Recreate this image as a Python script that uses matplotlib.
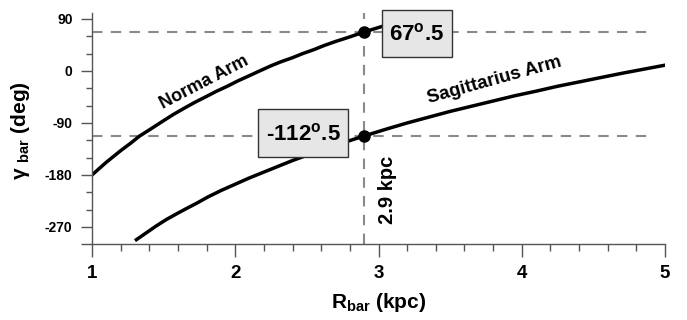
import matplotlib
matplotlib.use("Agg")
import matplotlib.pyplot as plt
from matplotlib.patches import Rectangle

plt.rcParams['font.family'] = ['Liberation Sans', 'DejaVu Sans']
plt.rcParams['font.weight'] = 'bold'
plt.rcParams['mathtext.fontset'] = 'custom'
plt.rcParams['mathtext.rm'] = 'Liberation Sans:bold'
plt.rcParams['mathtext.bf'] = 'Liberation Sans:bold'
plt.rcParams['mathtext.it'] = 'Liberation Sans:bold'

# values
norma_r = [1.0, 1.05, 1.1, 1.15, 1.2, 1.27, 1.33, 1.4, 1.5, 1.57, 1.64, 1.72, 1.8, 1.87,
           1.94, 2.02, 2.1, 2.17, 2.25, 2.32, 2.4, 2.47, 2.55, 2.62, 2.7, 2.8, 2.9, 3.05]
norma_g = [-180, -169, -158, -148, -138, -125, -113, -102, -86, -75, -65, -54, -44, -35,
           -27, -17, -8, 0, 9, 16, 23, 30, 37, 44, 51, 59, 67.5, 79]

sgr_r = [1.31, 1.38, 1.45, 1.52, 1.6, 1.66, 1.73, 1.81, 1.9, 2.0, 2.1, 2.2, 2.3, 2.4, 2.5,
         2.6, 2.7, 2.8, 2.9, 3.05, 3.2, 3.35, 3.5, 3.65, 3.8, 3.95, 4.1, 4.25, 4.4, 4.55,
         4.7, 4.85, 5.0]
sgr_g = [-292, -280, -268, -257, -246, -238, -229, -218, -207, -196, -185, -175, -165, -155,
         -146, -137, -128, -120.5, -112.5, -101, -90, -80, -70, -61, -52, -43, -35, -26.5,
         -19, -11.5, -4, 3, 10]

r_cross = 2.9
g_norma = 67.5
g_sgr = -112.5

yticks = [-300, -270, -180, -90, 0, 90]
ytick_labels = ['', '-270', '-180', '-90', '0', '90']
xticks = [1, 2, 3, 4, 5]

fig = plt.figure(figsize=(6.87, 3.2), dpi=100)
ax = fig.add_axes([0.1339, 0.2366, 0.8341, 0.7222])

gray = '#8a8a8a'
dash = (0, (5, 4))
ax.axvline(r_cross, color=gray, lw=1.5, ls=dash, zorder=1)
ax.plot([1, 4.9], [g_norma, g_norma], color=gray, lw=1.5, ls=dash, zorder=1)
ax.plot([1, 4.9], [g_sgr, g_sgr], color=gray, lw=1.5, ls=dash, zorder=1)

ax.plot(norma_r, norma_g, color='black', lw=2.5, zorder=2)
ax.plot(sgr_r, sgr_g, color='black', lw=2.5, zorder=2)
ax.plot([r_cross, r_cross], [g_norma, g_sgr], 'o', color='black', ms=8, ls='none', zorder=3)

# label boxes
for (x0, x1, y0, y1), label in [((3.024, 3.513, 23.7, 105.6), r'67$^{\mathbf{o}}$.5'),
                                ((2.161, 2.789, -148.3, -66.3), r'-112$^{\mathbf{o}}$.5')]:
    ax.add_patch(Rectangle((x0, y0), x1 - x0, y1 - y0, fc='#e6e6e6', ec='#333333',
                           lw=1, zorder=4, clip_on=False))
    ax.text((x0 + x1) / 2, (y0 + y1) / 2 - 2, label, fontsize=16, ha='center',
            va='center', zorder=5)

ax.text(1.78, -20, 'Norma Arm', fontsize=13, rotation=27.5, ha='center', va='center')
ax.text(3.81, -17, 'Sagittarius Arm', fontsize=13.5, rotation=15.5, ha='center', va='center')
ax.text(3.065, -205, '2.9 kpc', fontsize=14.5, rotation=90, ha='center', va='center')

ax.set_xlim(1, 5)
ax.set_ylim(-300, 100)
ax.set_xticks(xticks)
ax.set_xticks([1 + 0.2 * i for i in range(21)], minor=True)
ax.set_yticks(yticks)
ax.set_yticklabels(ytick_labels)
ax.set_yticks(list(range(-300, 91, 30)), minor=True)

for s in ['top', 'right']:
    ax.spines[s].set_visible(False)
for s in ['left', 'bottom']:
    ax.spines[s].set_color('#555555')
    ax.spines[s].set_linewidth(1)

ax.tick_params(axis='both', which='both', direction='out', color='#555555', width=1)
ax.tick_params(axis='x', which='major', length=9, labelsize=13.5, pad=6)
ax.tick_params(axis='x', which='minor', length=5)
ax.tick_params(axis='y', which='major', length=8, labelsize=10, pad=6)
ax.tick_params(axis='y', which='minor', length=4)

ax.set_xlabel(r'R$_{\mathbf{bar}}$ (kpc)', fontsize=15, fontweight='bold')
ax.xaxis.set_label_coords(0.5, -0.2)
ax.set_ylabel('γ $_{\\mathbf{bar}}$ (deg)', fontsize=15, fontweight='bold')
ax.yaxis.set_label_coords(-0.105, 0.49)

fig.savefig('out.png', dpi=100)
